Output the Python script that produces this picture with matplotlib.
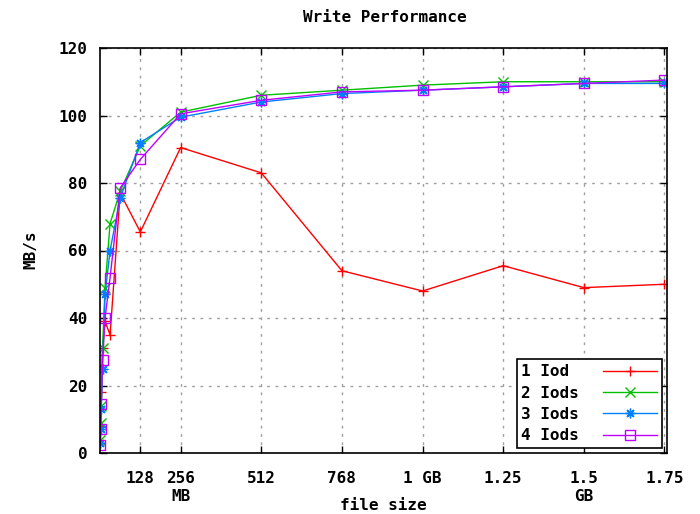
"""
Write Performance chart: throughput vs file size for 1-4 Iods.
"""

import matplotlib
matplotlib.use("Agg")
import matplotlib.pyplot as plt

# file sizes in MB
sizes = [1, 2, 4, 8, 16, 32, 64, 128, 256, 512, 768, 1024, 1280, 1536, 1792]

iod1 = [3, 8, 18, 31, 39, 35, 77, 65.5, 90.5, 83, 54, 48, 55.5, 49, 50]
iod2 = [4, 9, 14, 31, 49, 68, 77.5, 91, 101, 106, 107.5, 109, 110, 110, 110]
iod3 = [3, 7, 13, 25, 47, 60, 75.5, 92, 99.5, 104, 106.5, 107.5, 108.5, 109.5, 109.5]
iod4 = [2.5, 7, 14.5, 27.5, 40, 52, 78.5, 87, 100.5, 104.5, 107, 107.5, 108.5, 109.5, 110.5]

# monospace font, so a trailing space keeps the labels left aligned
labels = ["1 Iod ", "2 Iods", "3 Iods", "4 Iods"]
xtick_pos = [128, 256, 512, 768, 1024, 1280, 1536, 1792]
xtick_labels = ["128", "256", "512", "768", "1 GB", "1.25", "1.5", "1.75"]
ytick_pos = [0, 20, 40, 60, 80, 100, 120]

FONT = {"family": "DejaVu Sans Mono", "weight": "bold", "size": 11.5}


def main() -> None:
    fig = plt.figure(figsize=(7.0, 5.14), dpi=100)
    ax = fig.add_axes([100 / 700, 61 / 514, 567 / 700, 405 / 514])

    series = [iod1, iod2, iod3, iod4]
    colors = ["#ff0000", "#00c000", "#0080ff", "#c000ff"]
    markers = ["+", "x", (8, 2, 0), "s"]
    for vals, lab, col, mk in zip(series, labels, colors, markers):
        ax.plot(sizes, vals, color=col, lw=1, marker=mk, markersize=7,
                markerfacecolor="none", markeredgecolor=col,
                markeredgewidth=1, label=lab)

    ax.set_xlim(0, 1800)
    ax.set_ylim(0, 120)
    ax.set_xticks(xtick_pos)
    ax.set_xticklabels(xtick_labels, fontdict=FONT)
    ax.set_yticks(ytick_pos)
    ax.set_yticklabels([str(v) for v in ytick_pos], fontdict=FONT)
    ax.tick_params(direction="in", length=5, width=1, top=True, right=True,
                   pad=9, color="black")
    ax.tick_params(axis="x", pad=13)
    ax.grid(True, color="#a0a0a0", linestyle=(0, (2, 4)), lw=1)

    for sp in ax.spines.values():
        sp.set_linewidth(1.2)

    ax.text(256, -12.8, "MB", ha="center", va="center", fontdict=FONT)
    ax.text(1536, -12.8, "GB", ha="center", va="center", fontdict=FONT)

    fig.text(385 / 700, 1 - 17 / 514, "Write Performance", ha="center",
             va="center", fontdict=FONT)
    fig.text(383 / 700, 1 - 506 / 514, "file size", ha="center",
             va="center", fontdict=FONT)
    fig.text(31 / 700, 1 - 250 / 514, "MB/s", ha="center", va="center",
             rotation=90, fontdict=FONT)

    leg = ax.legend(loc="lower right", markerfirst=False, fancybox=False,
                    edgecolor="black", framealpha=1,
                    prop={"family": "DejaVu Sans Mono", "weight": "bold",
                          "size": 11.5},
                    handlelength=3.4, borderpad=0.3, labelspacing=0.4,
                    borderaxespad=0.3, handletextpad=1.5)
    leg.get_frame().set_linewidth(1.2)

    fig.savefig("out.png", dpi=100)
    plt.close(fig)


if __name__ == "__main__":
    main()
